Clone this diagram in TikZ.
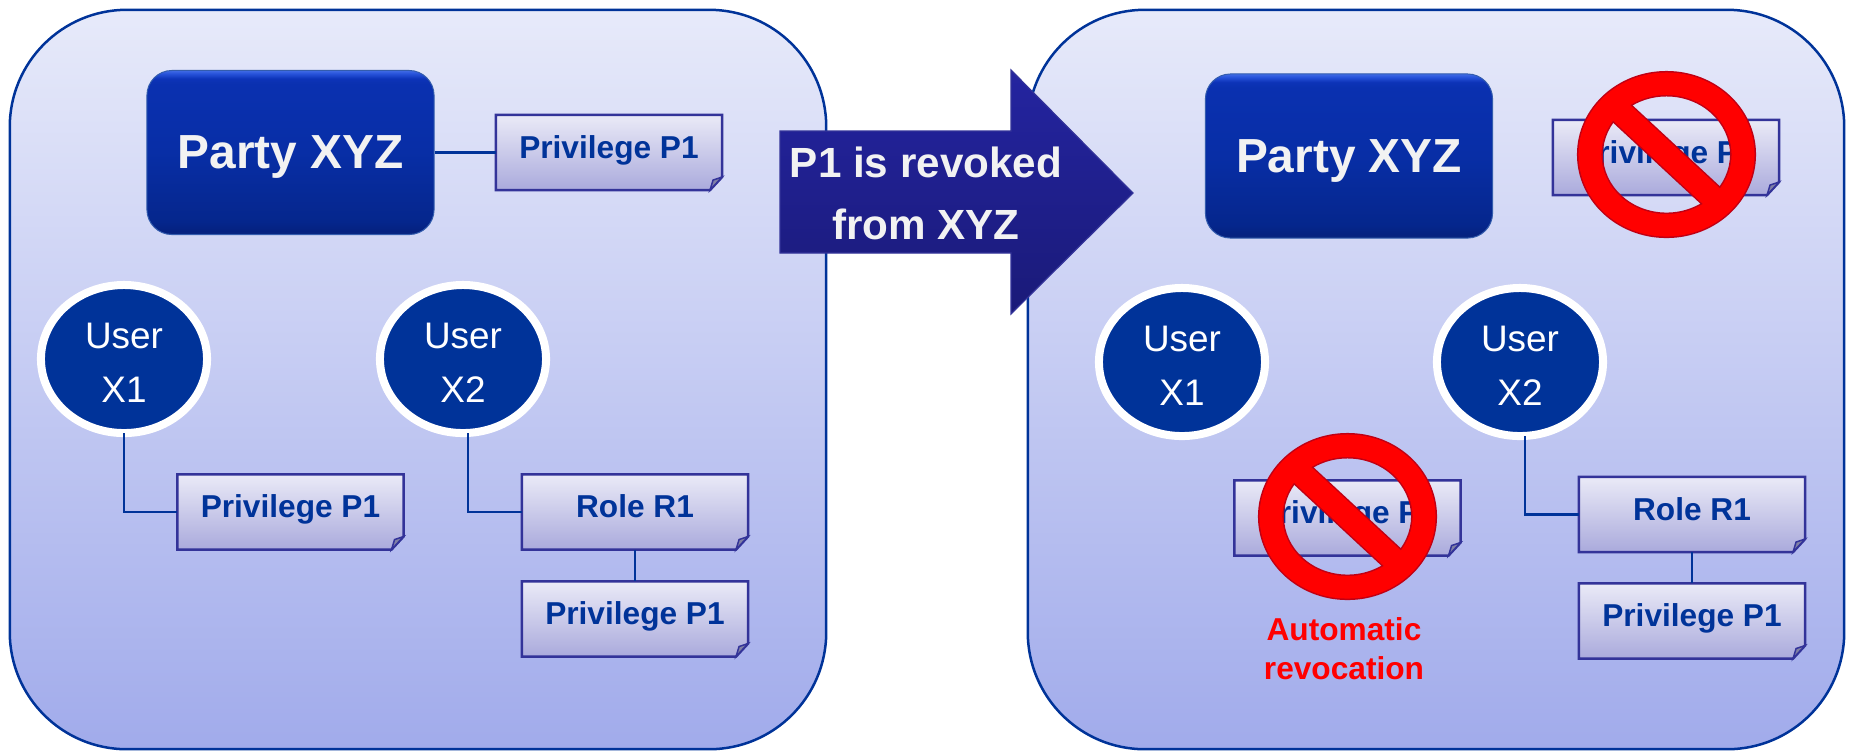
\documentclass[tikz,border=0pt]{standalone}
\usepackage{fontspec}
\setmainfont{Liberation Sans}
\usepackage{tikz}
\usetikzlibrary{calc,shapes.geometric}
\definecolor{panelTop}{RGB}{231,234,250}
\definecolor{panelBottom}{RGB}{161,171,235}
\definecolor{panelLine}{RGB}{0,51,153}
\definecolor{paperTop}{RGB}{234,234,247}
\definecolor{paperBottom}{RGB}{170,170,220}
\definecolor{paperLine}{RGB}{51,51,153}
\definecolor{inkBlue}{RGB}{0,51,153}
\definecolor{arrowTop}{RGB}{36,36,160}
\definecolor{arrowBottom}{RGB}{26,26,120}
\definecolor{signEdge}{RGB}{192,0,20}
\definecolor{offWhite}{RGB}{242,242,242}
\pgfdeclareverticalshading{partyshade}{100bp}{
	rgb(0bp)=(.04,.16,.50);
	rgb(25bp)=(.04,.16,.50);
	rgb(26bp)=(.02,.13,.50);
	rgb(29bp)=(.02,.15,.55);
	rgb(50bp)=(.03,.18,.65);
	rgb(71bp)=(.04,.19,.69);
	rgb(72.5bp)=(.05,.20,.72);
	rgb(74bp)=(.15,.32,.85);
	rgb(75bp)=(.25,.42,.90);
	rgb(100bp)=(.25,.42,.90)}
\tikzset{
	panel/.style={rectangle, draw=panelLine, line width=.025cm, rounded corners=1.17cm, top color=panelTop, bottom color=panelBottom, minimum width=8.16cm, minimum height=7.39cm, inner sep=0},
	party/.style={rectangle, draw=panelLine!80, line width=.01cm, rounded corners=.25cm, shading=partyshade, minimum width=2.87cm, minimum height=1.64cm, inner sep=0, text depth=0pt, text=offWhite, font=\fontsize{13.6}{16}\bfseries\selectfont},
	useroval/.style={ellipse, draw=white, line width=.08cm, fill=inkBlue, minimum width=1.66cm, minimum height=1.48cm, inner sep=0, outer sep=0, text=white, align=center, font=\fontsize{10.5}{15.6}\selectfont},
	paperframe/.style={rectangle, minimum width=2.26cm, minimum height=.75cm, inner sep=0, outer sep=0},
	papertext/.style={text=inkBlue, inner sep=0, text depth=0pt, font=\fontsize{9}{10.5}\bfseries\selectfont},
	wire/.style={draw=panelLine, line width=.025cm}
}
\newcommand{\paper}[3]{
	\node[paperframe] (#1) at (#2) {};
	\draw[draw=paperLine, line width=.025cm, top color=paperTop, bottom color=paperBottom] (#1.north west) -- (#1.north east) -- ($(#1.south east)+(0,-13)$) -- ($(#1.south east)+(-12,0)$) -- (#1.south west) -- cycle;
	\draw[draw=paperLine, line width=.015cm, fill=paperBottom!75!black] ($(#1.south east)+(0,-13)$) -- ($(#1.south east)+(-9,-10)$) -- ($(#1.south east)+(-12,0)$) -- cycle;
	\node[papertext] (#1text) at ($(#1)+(0,-5.5)$) {#3};
}
\newcommand{\nosign}[2]{
	\begin{scope}[shift={(#1,#2)}]
		\fill[signEdge, even odd rule] (0,0) ellipse (.895cm and .835cm) (0,0) ellipse (.635cm and .58cm);
		\draw[signEdge, line width=.26cm] (-55,-51) -- (55,51);
		\fill[red, even odd rule] (0,0) ellipse (.88cm and .82cm) (0,0) ellipse (.65cm and .595cm);
		\draw[red, line width=.23cm] (-56,-52) -- (56,52);
	\end{scope}
}
\newcommand{\userlabel}[1]{\rule{0pt}{.33cm}User\\#1}
\begin{document}
\begin{tikzpicture}[x=.01cm, y=-.01cm]
\useasboundingbox (0,0) rectangle (1853,750);
\node[panel] (panelA) at (418,379.5) {};
\node[panel] (panelB) at (1436,379.5) {};

\node[party] (partyA) at (290.5,152.5) {Party XYZ};
\paper{privA}{609,152.5}{Privilege P1}
\draw[wire] (partyA.east) -- (privA.west);
\node[useroval] (userA) at (124,359) {\userlabel{X1}};
\node[useroval] (userB) at (463,359) {\userlabel{X2}};
\paper{privB}{290.5,512}{Privilege P1}
\paper{roleA}{635,512}{Role R1}
\paper{privC}{635,619}{Privilege P1}
\draw[wire] (userA.south) |- (privB.west);
\draw[wire] ([xshift=.05cm]userB.south) |- (roleA.west);
\draw[wire] (roleA.south) -- (privC.north);

\node[party] (partyB) at (1349,156) {Party XYZ};
\paper{privD}{1666,157.5}{Privilege P1}
\node[useroval] (userC) at (1182,362) {\userlabel{X1}};
\node[useroval] (userD) at (1520,362) {\userlabel{X2}};
\paper{privE}{1347.5,518}{Privilege P1}
\paper{roleB}{1692,514.5}{Role R1}
\paper{privF}{1692,621}{Privilege P1}
\draw[wire] ([xshift=.05cm]userD.south) |- (roleB.west);
\draw[wire] (roleB.south) -- (privF.north);
\nosign{1666.5}{154.5}
\nosign{1347.5}{516.5}
\node[text=red, align=center, inner sep=0, font=\fontsize{9}{11}\bfseries\selectfont] (autoNote) at (1344,649) {Automatic\\revocation};

\draw[draw=paperLine, line width=.012cm, top color=arrowTop, bottom color=arrowBottom] (780,131) -- (1011,131) -- (1011,70) -- (1133,193) -- (1011,314) -- (1011,253) -- (780,253) -- cycle;
\node[text=offWhite, align=center, inner sep=0, font=\fontsize{12}{17.6}\bfseries\selectfont] (revokeNote) at (926,193.5) {P1 is revoked\\from XYZ};
\end{tikzpicture}
\end{document}
